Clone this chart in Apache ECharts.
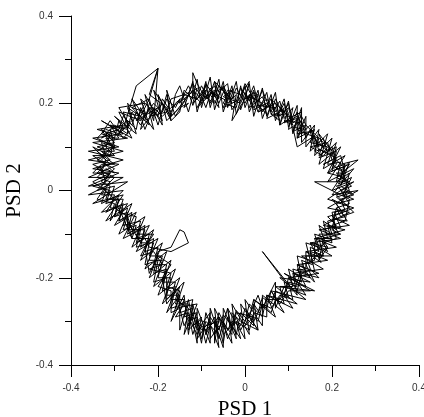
<!DOCTYPE html>
<html>
<head>
<meta charset="utf-8">
<script src="https://cdn.jsdelivr.net/npm/echarts@6/dist/echarts.min.js"></script>
<style>
  html, body { margin: 0; padding: 0; background: #fff; }
  #chart { width: 424px; height: 417px; }
</style>
</head>
<body>
<div id="chart"></div>
<script>
// trajectory, lap by lap [PSD 1, PSD 2]
const lap1 = [
  [-0.14,0.21],[-0.11,0.235],[-0.12,0.20],[-0.09,0.23],[-0.10,0.205],[-0.07,0.24],[-0.06,0.21],[-0.08,0.225],
  [-0.04,0.205],[-0.03,0.23],[-0.05,0.215],[-0.01,0.20],[0.0,0.225],[0.02,0.19],[0.01,0.215],[0.04,0.20],
  [0.05,0.175],[0.03,0.195],[0.07,0.19],[0.08,0.16],[0.06,0.175],[0.10,0.175],[0.11,0.15],[0.09,0.16],
  [0.13,0.155],[0.12,0.13],
  [0.15,0.135],[0.16,0.10],[0.18,0.12],[0.19,0.085],[0.17,0.095],[0.21,0.075],[0.20,0.05],[0.23,0.06],
  [0.22,0.03],[0.24,0.02],[0.21,0.01],[0.235,-0.01],[0.22,-0.03],[0.20,-0.02],[0.225,-0.05],[0.19,-0.06],
  [0.21,-0.08],[0.18,-0.09],[0.20,-0.11],[0.16,-0.11],[0.17,-0.14],[0.15,-0.13],[0.155,-0.17],[0.13,-0.16],
  [0.14,-0.19],[0.11,-0.18],[0.12,-0.22],[0.09,-0.21],[0.10,-0.245],[0.07,-0.23],
  [0.06,-0.26],[0.04,-0.245],[0.03,-0.28],[0.01,-0.26],[0.0,-0.30],[-0.02,-0.275],[-0.03,-0.31],[-0.05,-0.285],
  [-0.06,-0.32],[-0.08,-0.29],[-0.09,-0.33],[-0.10,-0.295],[-0.12,-0.31],[-0.11,-0.28],[-0.14,-0.29],[-0.13,-0.26],
  [-0.16,-0.26],[-0.15,-0.23],[-0.18,-0.22],[-0.17,-0.19],[-0.20,-0.18],[-0.19,-0.15],[-0.22,-0.15],[-0.21,-0.12],
  [-0.24,-0.12],[-0.23,-0.09],[-0.26,-0.09],[-0.27,-0.06],[-0.29,-0.07],[-0.28,-0.04],[-0.31,-0.04],[-0.30,-0.01],
  [-0.33,-0.01],
  [-0.31,0.02],[-0.34,0.03],[-0.32,0.05],[-0.30,0.04],[-0.33,0.07],[-0.31,0.09],[-0.34,0.10],[-0.30,0.11],
  [-0.32,0.13],[-0.29,0.14],
  [-0.28,0.17],[-0.26,0.15],[-0.25,0.18],[-0.23,0.16],[-0.22,0.20],[-0.20,0.17],[-0.19,0.21],[-0.17,0.18],
  [-0.16,0.20]
];
const lap2 = [
  [-0.13,0.225],[-0.12,0.195],[-0.10,0.24],[-0.08,0.20],[-0.07,0.23],[-0.09,0.215],[-0.05,0.235],[-0.04,0.20],
  [-0.02,0.22],[-0.03,0.16],[0.0,0.21],[0.02,0.225],[0.01,0.19],[0.04,0.215],[0.05,0.19],[0.03,0.18],
  [0.07,0.20],[0.08,0.17],[0.10,0.19],[0.09,0.155],[0.12,0.17],[0.14,0.14],[0.11,0.145],[0.12,0.10],
  [0.16,0.125],[0.17,0.09],[0.15,0.10],[0.19,0.11],[0.20,0.07],[0.18,0.06],[0.22,0.08],[0.23,0.04],
  [0.21,0.04],[0.245,0.01],[0.22,0.0],[0.24,-0.03],[0.21,-0.04],[0.23,-0.06],[0.19,-0.07],[0.20,-0.10],
  [0.17,-0.08],[0.185,-0.12],[0.16,-0.14],[0.18,-0.15],[0.14,-0.15],[0.15,-0.18],[0.17,-0.20],[0.13,-0.19],
  [0.12,-0.23],[0.10,-0.20],[0.09,-0.24],[0.11,-0.27],[0.07,-0.25],[0.06,-0.28],
  [0.04,-0.26],[0.03,-0.30],[0.01,-0.28],[-0.01,-0.32],[-0.02,-0.29],[-0.04,-0.34],[-0.05,-0.30],[-0.07,-0.33],
  [-0.06,-0.30],[-0.09,-0.31],[-0.11,-0.34],[-0.10,-0.29],[-0.13,-0.32],[-0.12,-0.27],[-0.15,-0.28],
  [-0.14,-0.25],[-0.17,-0.25],[-0.16,-0.21],[-0.19,-0.21],[-0.18,-0.17],[-0.21,-0.17],[-0.20,-0.13],[-0.23,-0.14],
  [-0.22,-0.10],[-0.25,-0.11],[-0.24,-0.07],[-0.28,-0.08],[-0.27,-0.04],[-0.30,-0.06],[-0.29,-0.02],[-0.32,-0.03],
  [-0.31,0.0],
  [-0.35,0.01],[-0.32,0.02],[-0.33,0.05],[-0.35,0.06],[-0.31,0.07],[-0.33,0.09],[-0.30,0.09],[-0.32,0.12],
  [-0.29,0.12],[-0.31,0.15],
  [-0.27,0.14],[-0.26,0.18],[-0.24,0.15],[-0.22,0.19],[-0.21,0.16],[-0.20,0.28],[-0.22,0.22],[-0.18,0.19],
  [-0.17,0.16],[-0.15,0.18]
];
const lap3 = [
  [-0.14,0.23],[-0.12,0.21],[-0.12,0.27],[-0.11,0.245],[-0.09,0.21],[-0.08,0.235],[-0.06,0.20],[-0.05,0.225],
  [-0.03,0.21],[-0.02,0.235],[0.0,0.20],[0.01,0.22],[0.03,0.205],[0.04,0.23],[0.06,0.18],[0.07,0.21],
  [0.09,0.17],[0.08,0.19],[0.11,0.16],[0.12,0.18],[0.13,0.13],[0.15,0.15],
  [0.16,0.11],[0.18,0.10],[0.17,0.13],[0.20,0.09],[0.19,0.06],[0.22,0.065],[0.21,0.02],[0.24,0.04],
  [0.23,0.0],[0.25,-0.01],[0.22,-0.02],[0.23,-0.045],[0.20,-0.05],[0.21,-0.09],[0.18,-0.07],[0.19,-0.11],
  [0.16,-0.10],[0.17,-0.13],[0.14,-0.12],[0.15,-0.16],[0.12,-0.15],[0.13,-0.20],[0.10,-0.18],[0.11,-0.22],
  [0.08,-0.22],[0.09,-0.26],[0.05,-0.24],
  [0.04,-0.29],[0.02,-0.26],[0.02,-0.31],[-0.01,-0.28],[-0.02,-0.33],[-0.04,-0.29],[-0.05,-0.35],[-0.06,-0.31],
  [-0.08,-0.34],[-0.08,-0.30],[-0.10,-0.32],[-0.12,-0.29],[-0.13,-0.31],[-0.11,-0.26],[-0.16,-0.27],
  [-0.15,-0.24],[-0.18,-0.24],[-0.17,-0.20],[-0.20,-0.20],[-0.19,-0.16],[-0.22,-0.16],[-0.21,-0.11],[-0.24,-0.13],
  [-0.23,-0.08],[-0.26,-0.10],[-0.25,-0.06],[-0.29,-0.05],[-0.28,-0.02],[-0.31,-0.02],[-0.30,0.01],
  [-0.34,0.0],[-0.31,0.03],[-0.34,0.04],[-0.32,0.06],[-0.35,0.08],[-0.30,0.08],[-0.32,0.10],[-0.31,0.13],
  [-0.33,0.12],[-0.30,0.15],
  [-0.27,0.13],[-0.27,0.16],[-0.25,0.14],[-0.24,0.19],[-0.23,0.17],[-0.21,0.20],[-0.19,0.18],[-0.18,0.21],
  [-0.16,0.19],[-0.15,0.21]
];
const lap4 = [
  [-0.15,0.20],[-0.13,0.24],[-0.12,0.22],[-0.10,0.20],[-0.09,0.245],[-0.07,0.215],[-0.06,0.24],[-0.04,0.215],
  [-0.05,0.19],[-0.02,0.205],[-0.01,0.235],[0.01,0.205],[0.02,0.23],[0.03,0.19],[0.05,0.21],[0.06,0.195],
  [0.05,0.165],[0.08,0.18],[0.09,0.20],[0.10,0.16],[0.12,0.165],[0.11,0.135],[0.14,0.15],[0.12,0.12],
  [0.16,0.14],[0.15,0.11],[0.19,0.10],[0.17,0.075],[0.21,0.09],[0.20,0.045],[0.23,0.055],[0.215,0.015],
  [0.245,0.03],[0.225,-0.01],[0.25,-0.02],[0.21,-0.03],[0.235,-0.07],[0.20,-0.065],[0.215,-0.10],[0.17,-0.10],
  [0.19,-0.13],[0.15,-0.12],[0.175,-0.165],[0.14,-0.14],[0.14,-0.18],[0.12,-0.17],[0.13,-0.21],[0.09,-0.19],
  [0.15,-0.23],[0.10,-0.23],[0.08,-0.26],[0.06,-0.23],
  [0.05,-0.27],[0.02,-0.25],[0.01,-0.29],[0.03,-0.32],[-0.01,-0.30],[-0.03,-0.28],[-0.03,-0.33],[-0.06,-0.29],
  [-0.07,-0.35],[-0.07,-0.30],[-0.09,-0.32],[-0.11,-0.30],[-0.12,-0.33],[-0.13,-0.28],[-0.16,-0.29],[-0.14,-0.26],
  [-0.17,-0.27],[-0.16,-0.22],[-0.19,-0.23],[-0.18,-0.18],[-0.21,-0.19],[-0.20,-0.14],[-0.17,-0.13],[-0.15,-0.09],
  [-0.14,-0.095],[-0.13,-0.12],[-0.17,-0.14],[-0.22,-0.13],[-0.23,-0.11],[-0.25,-0.12],[-0.24,-0.08],[-0.27,-0.10],
  [-0.26,-0.05],[-0.29,-0.07],[-0.28,-0.03],[-0.32,-0.05],[-0.30,-0.02],[-0.33,0.01],
  [-0.31,0.04],[-0.35,0.04],[-0.33,0.06],[-0.30,0.06],[-0.34,0.09],[-0.31,0.11],[-0.33,0.14],[-0.30,0.12],
  [-0.29,0.16],
  [-0.28,0.14],[-0.25,0.24],[-0.20,0.28],[-0.22,0.21],[-0.26,0.19],[-0.23,0.18],[-0.24,0.14],[-0.21,0.18],
  [-0.20,0.15],[-0.18,0.22],[-0.17,0.17],[-0.15,0.19],[-0.13,0.20]
];
const lap5 = [
  [-0.14,0.19],[-0.12,0.25],[-0.11,0.18],[-0.09,0.25],[-0.08,0.19],[-0.06,0.255],[-0.05,0.18],[-0.03,0.24],
  [-0.02,0.175],[0.0,0.24],[0.01,0.18],[0.03,0.23],[0.04,0.165],[0.06,0.22],[0.07,0.16],[0.09,0.21],
  [0.10,0.145],[0.12,0.195],[0.12,0.12],[0.14,0.17],
  [0.14,0.10],[0.17,0.14],[0.16,0.08],[0.20,0.12],[0.18,0.05],[0.23,0.08],[0.19,0.02],[0.25,0.05],
  [0.20,-0.01],[0.26,0.0],[0.19,-0.04],[0.24,-0.05],[0.18,-0.08],[0.23,-0.09],[0.16,-0.11],[0.21,-0.13],
  [0.14,-0.14],[0.19,-0.16],[0.12,-0.17],[0.17,-0.19],[0.10,-0.20],[0.16,-0.23],[0.07,-0.22],[0.12,-0.26],
  [0.05,-0.24],
  [0.07,-0.29],[0.02,-0.25],[0.03,-0.32],[-0.01,-0.26],[0.0,-0.34],[-0.04,-0.27],[-0.03,-0.35],[-0.07,-0.27],
  [-0.06,-0.36],[-0.09,-0.28],[-0.10,-0.35],[-0.12,-0.26],[-0.13,-0.33],[-0.14,-0.24],[-0.17,-0.30],
  [-0.14,-0.21],[-0.19,-0.26],[-0.16,-0.18],[-0.21,-0.22],[-0.18,-0.14],[-0.23,-0.18],[-0.20,-0.11],[-0.25,-0.14],
  [-0.22,-0.08],[-0.28,-0.11],[-0.25,-0.05],[-0.30,-0.08],[-0.27,-0.03],[-0.33,-0.05],[-0.28,0.0],[-0.36,-0.01],
  [-0.28,0.03],[-0.36,0.03],[-0.29,0.06],[-0.36,0.07],[-0.28,0.09],[-0.35,0.11],[-0.27,0.12],[-0.34,0.14],
  [-0.28,0.15],
  [-0.30,0.17],[-0.25,0.13],[-0.27,0.20],[-0.22,0.15],[-0.24,0.21],[-0.19,0.16],[-0.21,0.23],[-0.17,0.17],
  [-0.16,0.22]
];
const lap6 = [
  [-0.15,0.24],[-0.13,0.18],[-0.11,0.255],[-0.10,0.19],[-0.08,0.26],[-0.07,0.185],[-0.05,0.25],[-0.04,0.19],
  [-0.02,0.25],[-0.01,0.185],[0.01,0.245],[0.02,0.17],[0.04,0.235],[0.05,0.17],[0.07,0.225],[0.08,0.15],
  [0.10,0.205],[0.11,0.13],[0.13,0.19],[0.13,0.11],
  [0.16,0.15],[0.15,0.09],[0.19,0.13],[0.17,0.06],[0.22,0.10],[0.19,0.04],[0.24,0.06],[0.20,0.0],
  [0.25,0.02],[0.19,-0.02],[0.25,-0.04],[0.20,-0.06],[0.24,-0.08],[0.17,-0.09],[0.22,-0.11],[0.15,-0.12],
  [0.20,-0.15],[0.13,-0.15],[0.18,-0.18],[0.11,-0.19],[0.15,-0.21],[0.08,-0.20],[0.14,-0.25],[0.06,-0.23],
  [0.09,-0.28],
  [0.04,-0.24],[0.04,-0.31],[0.0,-0.25],[0.01,-0.33],[-0.03,-0.26],[-0.02,-0.34],[-0.05,-0.27],[-0.05,-0.36],
  [-0.08,-0.27],[-0.08,-0.35],[-0.11,-0.27],[-0.11,-0.35],[-0.13,-0.25],[-0.15,-0.32],[-0.15,-0.24],
  [-0.18,-0.28],[-0.15,-0.20],[-0.20,-0.24],[-0.17,-0.16],[-0.22,-0.20],[-0.19,-0.12],[-0.24,-0.16],[-0.21,-0.09],
  [-0.26,-0.13],[-0.23,-0.06],[-0.29,-0.10],[-0.26,-0.03],[-0.32,-0.07],[-0.28,-0.01],[-0.35,-0.03],
  [-0.27,0.02],[-0.36,0.01],[-0.29,0.04],[-0.35,0.05],[-0.28,0.07],[-0.36,0.09],[-0.29,0.10],[-0.35,0.12],
  [-0.28,0.13],[-0.33,0.16],
  [-0.26,0.12],[-0.29,0.18],[-0.24,0.16],[-0.26,0.21],[-0.21,0.14],[-0.23,0.22],[-0.19,0.15],[-0.20,0.22],
  [-0.17,0.16],[-0.18,0.23],[-0.16,0.17]
];
const lap7 = [
  [-0.13,0.22],[-0.12,0.245],[-0.10,0.215],[-0.09,0.19],[-0.07,0.25],[-0.06,0.225],[-0.04,0.245],[-0.03,0.185],
  [-0.01,0.215],[0.0,0.245],[0.02,0.21],[0.03,0.18],[0.05,0.225],[0.06,0.175],[0.08,0.205],[0.09,0.165],
  [0.11,0.19],[0.10,0.14],[0.13,0.16],[0.14,0.12],
  [0.15,0.14],[0.17,0.10],[0.16,0.12],[0.19,0.09],[0.21,0.10],[0.20,0.06],[0.22,0.045],[0.24,0.065],
  [0.22,0.01],[0.245,-0.005],[0.21,-0.015],[0.24,-0.04],[0.205,-0.05],[0.22,-0.085],[0.19,-0.08],[0.20,-0.12],
  [0.17,-0.11],[0.18,-0.15],[0.15,-0.14],[0.16,-0.185],[0.12,-0.18],[0.14,-0.22],[0.10,-0.21],[0.11,-0.25],
  [0.08,-0.24],
  [0.06,-0.27],[0.04,-0.26],[0.02,-0.30],[0.0,-0.27],[-0.01,-0.31],[-0.03,-0.30],[-0.04,-0.32],[-0.06,-0.28],
  [-0.07,-0.32],[-0.09,-0.30],[-0.10,-0.34],[-0.11,-0.29],[-0.13,-0.30],[-0.12,-0.25],[-0.15,-0.26],
  [-0.16,-0.23],[-0.18,-0.25],[-0.18,-0.20],[-0.21,-0.21],[-0.20,-0.16],[-0.23,-0.17],[-0.22,-0.12],[-0.25,-0.13],
  [-0.24,-0.09],[-0.27,-0.09],[-0.27,-0.05],[-0.30,-0.06],[-0.29,-0.02],[-0.32,-0.02],
  [-0.31,0.01],[-0.33,0.02],[-0.30,0.05],[-0.34,0.07],[-0.32,0.08],[-0.33,0.11],[-0.30,0.10],[-0.31,0.14],
  [-0.28,0.15],
  [-0.29,0.13],[-0.26,0.16],[-0.27,0.19],[-0.24,0.17],[-0.22,0.21],[-0.21,0.17],[-0.19,0.20],[-0.18,0.16],
  [-0.16,0.18]
];
const lap8 = [
  [-0.12,0.23],[-0.10,0.21],[-0.11,0.19],[-0.08,0.22],[-0.06,0.19],[-0.07,0.25],[-0.04,0.22],[-0.05,0.20],
  [-0.02,0.19],[-0.01,0.24],[0.0,0.19],[0.02,0.24],[0.03,0.20],[0.04,0.18],[0.06,0.21],[0.07,0.17],
  [0.09,0.19],[0.08,0.15],[0.11,0.17],[0.13,0.18],[0.12,0.14],[0.14,0.13],
  [0.17,0.12],[0.16,0.09],[0.18,0.08],[0.21,0.11],[0.20,0.08],[0.22,0.06],[0.26,0.07],[0.21,0.03],
  [0.23,0.02],[0.16,0.02],[0.22,-0.01],[0.24,-0.02],[0.23,-0.07],[0.20,-0.08],[0.21,-0.11],[0.18,-0.12],
  [0.19,-0.14],[0.16,-0.12],[0.16,-0.16],[0.13,-0.17],[0.15,-0.20],[0.11,-0.19],[0.12,-0.24],[0.04,-0.14],
  [0.10,-0.22],[0.08,-0.25],
  [0.05,-0.25],[0.05,-0.29],[0.02,-0.28],[0.01,-0.32],[-0.02,-0.30],[-0.01,-0.34],[-0.03,-0.31],[-0.05,-0.33],
  [-0.06,-0.29],[-0.08,-0.31],[-0.09,-0.35],[-0.10,-0.31],[-0.11,-0.33],[-0.13,-0.29],[-0.14,-0.31],[-0.15,-0.27],
  [-0.17,-0.28],[-0.17,-0.23],[-0.20,-0.22],[-0.18,-0.19],[-0.22,-0.18],[-0.19,-0.17],[-0.21,-0.14],[-0.24,-0.15],
  [-0.22,-0.11],[-0.26,-0.11],[-0.25,-0.08],[-0.28,-0.09],[-0.27,-0.06],[-0.30,-0.04],[-0.29,-0.01],[-0.33,-0.03],
  [-0.32,0.0],[-0.35,0.02],[-0.31,0.04],[-0.33,0.04],[-0.32,0.07],[-0.35,0.10],[-0.31,0.08],[-0.30,0.12],
  [-0.33,0.13],[-0.31,0.16],
  [-0.28,0.12],[-0.26,0.14],[-0.29,0.19],[-0.23,0.20],[-0.25,0.16],[-0.20,0.19],[-0.22,0.17],[-0.18,0.18],
  [-0.17,0.21],[-0.14,0.22]
];
const lap9 = [
  [-0.11,0.21],[-0.09,0.24],[-0.10,0.22],[-0.07,0.20],[-0.05,0.24],[-0.03,0.20],[-0.04,0.23],[-0.01,0.22],
  [0.01,0.25],[0.0,0.21],[0.03,0.22],[0.02,0.185],[0.05,0.20],[0.07,0.18],[0.06,0.21],[0.09,0.18],
  [0.10,0.20],[0.11,0.155],[0.13,0.17],[0.14,0.15],
  [0.16,0.13],[0.18,0.11],[0.17,0.08],[0.20,0.10],[0.21,0.06],[0.19,0.04],[0.23,0.03],[0.22,0.05],
  [0.24,0.0],[0.21,-0.01],[0.25,-0.05],[0.22,-0.06],[0.21,-0.04],[0.20,-0.09],[0.22,-0.10],[0.18,-0.11],
  [0.17,-0.16],[0.19,-0.13],[0.14,-0.17],[0.16,-0.21],[0.13,-0.18],[0.12,-0.21],[0.14,-0.24],[0.09,-0.22],
  [0.07,-0.27],[0.07,-0.21],
  [0.04,-0.27],[0.03,-0.24],[0.0,-0.31],[0.02,-0.29],[-0.02,-0.28],[-0.03,-0.32],[-0.04,-0.27],[-0.06,-0.34],
  [-0.07,-0.29],[-0.09,-0.33],[-0.08,-0.28],[-0.11,-0.32],[-0.12,-0.28],[-0.14,-0.33],[-0.13,-0.27],[-0.16,-0.25],
  [-0.15,-0.22],[-0.18,-0.26],[-0.19,-0.20],[-0.17,-0.17],[-0.20,-0.15],[-0.22,-0.19],[-0.23,-0.13],[-0.21,-0.10],
  [-0.25,-0.10],[-0.24,-0.12],[-0.27,-0.07],[-0.26,-0.11],[-0.29,-0.04],[-0.31,-0.07],[-0.30,-0.03],[-0.34,-0.02],
  [-0.32,0.01],[-0.30,0.03],[-0.34,0.05],[-0.31,0.06],[-0.33,0.08],[-0.30,0.10],[-0.34,0.12],[-0.32,0.14],
  [-0.29,0.13],
  [-0.27,0.15],[-0.28,0.18],[-0.24,0.17],[-0.23,0.14],[-0.21,0.19],[-0.19,0.17],[-0.17,0.19],[-0.14,0.21]
];
const xTicks = [-0.4, -0.2, 0, 0.2, 0.4];
const yTicks = [-0.4, -0.2, 0, 0.2, 0.4];

const chart = echarts.init(document.getElementById("chart"));

const axisCommon = {
  type: "value",
  interval: 0.2,
  nameLocation: "middle",
  nameTextStyle: { fontFamily: "Liberation Serif", fontSize: 21, color: "#000" },
  axisLine: { show: true, onZero: false, lineStyle: { color: "#000", width: 1 } },
  axisTick: { show: true, length: 12, lineStyle: { color: "#000" } },
  minorTick: { show: true, splitNumber: 2, length: 6, lineStyle: { color: "#000" } },
  splitLine: { show: false },
  axisLabel: {
    fontFamily: "Liberation Sans",
    fontSize: 10,
    color: "#333",
    margin: 18,
    formatter: function (v) { return String(+v.toFixed(1)); },
  },
};

chart.setOption({
  animation: false,
  backgroundColor: "#fff",
  grid: { left: 71, right: 5, top: 16, bottom: 52, outerBoundsMode: "none", containLabel: false },
  xAxis: Object.assign({}, axisCommon, {
    min: xTicks[0], max: xTicks[xTicks.length - 1],
    name: "PSD 1", nameGap: 34,
  }),
  yAxis: Object.assign({}, axisCommon, {
    min: yTicks[0], max: yTicks[yTicks.length - 1],
    name: "PSD 2", nameGap: 44,
  }),
  series: [
    {
      type: "line",
      data: lap1.concat(lap2, lap3, lap4, lap5, lap6, lap7, lap8, lap9),
      symbol: "none",
      lineStyle: { color: "#000", width: 1 },
    },
  ],
});
</script>
</body>
</html>
